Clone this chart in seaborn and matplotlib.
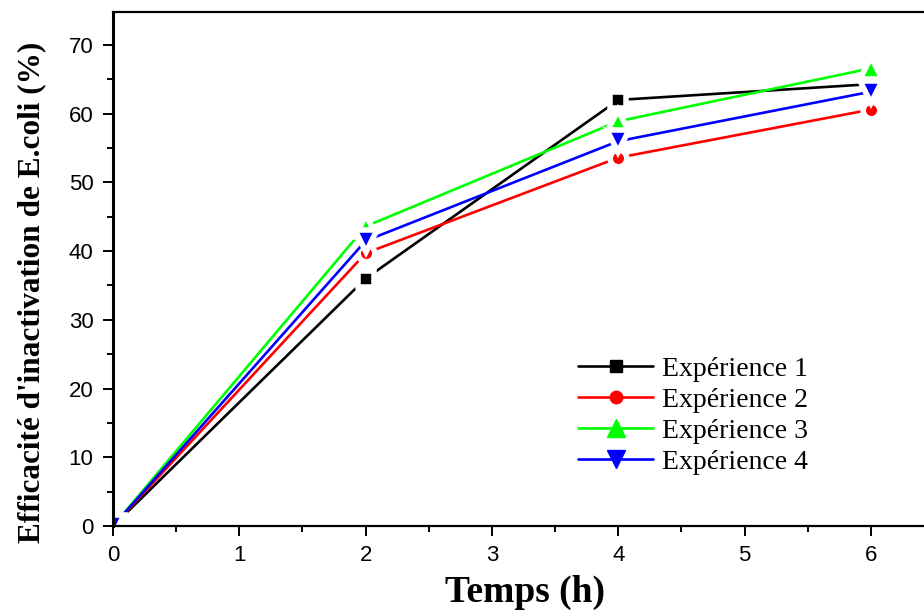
import pandas as pd
import matplotlib.pyplot as plt
import seaborn as sns

# values
temps = [0, 2, 4, 6]
exp1 = [0, 36.0, 62.0, 64.3]
exp2 = [0, 39.7, 53.6, 60.6]
exp3 = [0, 43.6, 58.9, 66.6]
exp4 = [0, 41.5, 56.0, 63.2]
series_names = ['Expérience 1', 'Expérience 2', 'Expérience 3', 'Expérience 4']

sns.set_theme(style="ticks")
plt.rcParams['font.family'] = ['Liberation Sans', 'DejaVu Sans']
plt.rcParams['text.color'] = 'black'
plt.rcParams['axes.labelcolor'] = 'black'
plt.rcParams['xtick.color'] = 'black'
plt.rcParams['ytick.color'] = 'black'

rows = []
for name, vals in zip(series_names, [exp1, exp2, exp3, exp4]):
    for t, v in zip(temps, vals):
        rows.append({'Temps': t, 'Efficacite': v, 'Serie': name})
df = pd.DataFrame(rows)

palette = {'Expérience 1': '#000000', 'Expérience 2': '#FF0000',
           'Expérience 3': '#00FF00', 'Expérience 4': '#0000FF'}
markers = {'Expérience 1': 's', 'Expérience 2': 'o',
           'Expérience 3': '^', 'Expérience 4': 'v'}
msize = {'Expérience 1': 11, 'Expérience 2': 12,
         'Expérience 3': 16, 'Expérience 4': 16}

fig = plt.figure(figsize=(9.24, 6.14), dpi=100)
ax = fig.add_axes([0.1223, 0.1433, 0.8777, 0.8372])

sns.lineplot(data=df, x='Temps', y='Efficacite', hue='Serie', style='Serie',
             palette=palette, markers=markers, dashes=False, ax=ax,
             linewidth=1.9, markersize=10, mec='white', mew=4)

# white halo around markers gives the gap look, per-series marker size
for line, name in zip(ax.lines, series_names):
    line.set_markersize(msize[name])

ax.set_xlim(0, 6.42)
ax.set_ylim(0, 74.8)
ax.set_xticks(range(0, 7))
ax.set_yticks(range(0, 71, 10))
ax.set_xticks([i + 0.5 for i in range(0, 6)], minor=True)
ax.set_yticks(range(5, 71, 10), minor=True)
ax.tick_params(axis='both', which='major', direction='out', length=7,
               width=1.4, labelsize=16, pad=7, colors='black')
ax.tick_params(axis='both', which='minor', direction='out', length=4,
               width=1.4)

ax.spines['right'].set_visible(False)
ax.spines['left'].set_linewidth(2.2)
ax.spines['bottom'].set_linewidth(1.6)
ax.spines['top'].set_linewidth(1.6)
for s in ax.spines.values():
    s.set_color('black')

ax.set_xlabel('Temps (h)', family=['Liberation Serif'], fontweight='bold',
              fontsize=27)
ax.set_ylabel("Efficacité d'inactivation de E.coli (%)",
              family=['Liberation Serif'], fontweight='bold', fontsize=22.5)
ax.xaxis.set_label_coords(0.508, -0.096)
ax.yaxis.set_label_coords(-0.082, 0.455)

leg = ax.legend(loc='upper left', bbox_to_anchor=(0.56, 0.352), frameon=False,
                borderaxespad=0, handlelength=2.7, handletextpad=0.3,
                labelspacing=0.2, prop={'family': 'Liberation Serif', 'size': 20})
for h, name in zip(leg.legend_handles, series_names):
    h.set_markeredgecolor(palette[name])
    h.set_markeredgewidth(1)
    h.set_markersize(msize[name] - 3)

fig.savefig('out.png', dpi=100)
